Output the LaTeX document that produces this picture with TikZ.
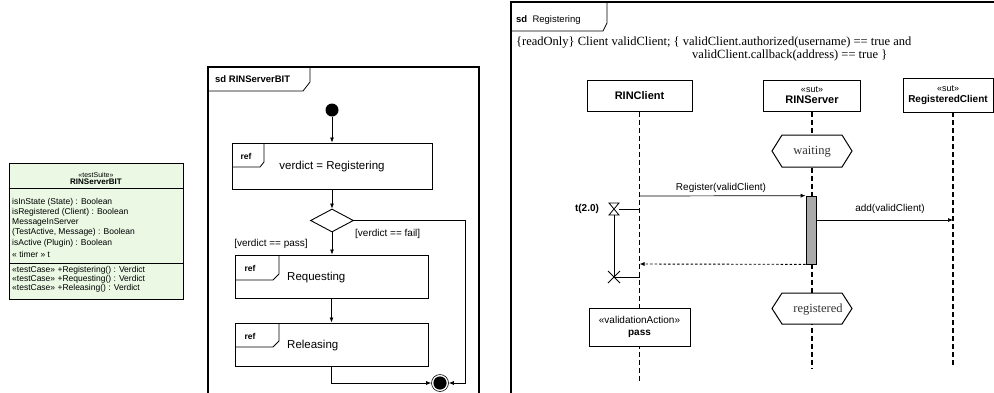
\documentclass[tikz,border=0pt]{standalone}
\usepackage{fontspec}
\setmainfont{Liberation Sans}
\newfontfamily\serifhex{Liberation Serif}
\usetikzlibrary{arrows.meta,shapes.geometric}
\newcommand\myfs[2]{\fontsize{#1}{#2}\selectfont}
\definecolor{classgreen}{RGB}{234,248,228}
\definecolor{actgray}{RGB}{170,170,170}
\begin{document}
\begin{tikzpicture}[x=1pt,y=-1pt,
  frameline/.style={line width=1.3pt},
  tabline/.style={line width=0.8pt},
  refbox/.style={draw, line width=1pt, fill=white, inner sep=0pt},
  flow/.style={-{Latex[length=5pt,width=4pt]}, line width=0.7pt},
  lifeline/.style={line width=1.1pt, dash pattern=on 5pt off 3pt},
  headbox/.style={draw, line width=1pt, fill=white, align=center, inner sep=1pt},
  lbl/.style={inner sep=0pt, font=\myfs{10}{12}},
  cls/.style={inner sep=0pt, anchor=west, font=\myfs{8.5}{10}},
  hexline/.style={line width=1pt, fill=white},
  hextext/.style={inner sep=0pt, font=\serifhex\myfs{12.5}{14}, text=black!80},
]
\useasboundingbox (0,0) rectangle (994,392);
\clip (0,0) rectangle (994,392);

% ---------------- class box ----------------
\node[draw, line width=0.8pt, fill=classgreen, minimum width=174pt, minimum height=136pt, inner sep=0pt] (class) at (96,231) {};
\coordinate (sepA) at (9,188);
\coordinate (sepB) at (9,263);
\draw[line width=0.7pt] (sepA) -- (sepA -| class.east);
\draw[line width=0.7pt] (sepB) -- (sepB -| class.east);
\node[inner sep=0pt, font=\myfs{7}{8}] (cstereo) at (96,175) {«testSuite»};
\node[inner sep=0pt, font=\bfseries\myfs{8}{9}] (cname) at (96,182) {RINServerBIT};
\node[cls] (a1) at (12,202) {isInState (State) : Boolean};
\node[cls] (a2) at (12,212) {isRegistered (Client) : Boolean};
\node[cls] (a3) at (12,222) {MessageInServer};
\node[cls] (a4) at (12,232) {(TestActive, Message) : Boolean};
\node[cls] (a5) at (12,243) {isActive (Plugin) : Boolean};
\node[cls] (a6) at (12,254) {« timer » t};
\node[cls] (o1) at (12,270) {«testCase» +Registering() : Verdict};
\node[cls] (o2) at (12,279) {«testCase» +Requesting() : Verdict};
\node[cls] (o3) at (12,288) {«testCase» +Releasing() : Verdict};

% ---------------- sd RINServerBIT ----------------
\draw[frameline] (208,67) rectangle (479,420);
\draw[tabline] (208,91) -- (303,91) -- (310,82) -- (310,67);
\node[inner sep=0pt, anchor=west, font=\bfseries\myfs{9.5}{11}] (sd1) at (215,79) {sd RINServerBIT};

\node[circle, fill, minimum size=13pt, inner sep=0pt] (init) at (332,110) {};

\node[refbox, minimum width=200pt, minimum height=46pt] (reg) at (332,166) {};
\draw[tabline] (232,167) -- (260,167) -- (264,162) -- (264,143);
\node[inner sep=0pt, font=\bfseries\myfs{8.5}{10}] (ref1) at (246,156) {ref};
\node[inner sep=0pt, font=\myfs{11.5}{14}] (regtxt) at (332,167) {verdict = Registering};

\node[diamond, draw, line width=0.9pt, fill=white, minimum width=43pt, minimum height=23pt, inner sep=0pt] (dec) at (332,220.5) {};

\node[refbox, minimum width=193pt, minimum height=43pt] (req) at (331.5,276.5) {};
\draw[tabline] (235,280) -- (273,280) -- (279,274) -- (279,255);
\node[inner sep=0pt, font=\bfseries\myfs{8.5}{10}] (ref2) at (250,268) {ref};
\node[inner sep=0pt, anchor=west, font=\myfs{11.5}{14}] (reqtxt) at (287,278) {Requesting};

\node[refbox, minimum width=193pt, minimum height=43pt] (rel) at (331.5,344.5) {};
\draw[tabline] (235,347) -- (273,347) -- (279,341) -- (279,323);
\node[inner sep=0pt, font=\bfseries\myfs{8.5}{10}] (ref3) at (250,336) {ref};
\node[inner sep=0pt, anchor=west, font=\myfs{11.5}{14}] (reltxt) at (287,346) {Releasing};

\node[circle, draw, line width=0.6pt, fill=white, minimum size=17pt, inner sep=0pt] (fin) at (440,383) {};
\fill (fin.center) circle (6.6pt);

\draw[flow] (init) -- (reg.north);
\draw[flow] (reg.south) -- (dec.north);
\draw[flow] (dec.south) -- (dec.south |- req.north);
\draw[flow] (req.south) -- (req.south |- rel.north);
\draw[flow] (rel.south) -- (rel.south |- fin.west) -- (fin.west);
\coordinate (failc) at (465,383);
\draw[flow] (dec.east) -| (failc) -- (fin.east);

\node[lbl, anchor=west] (gfail) at (355,234) {[verdict == fail]};
\node[lbl] (gpass) at (271,244) {[verdict == pass]};

% ---------------- sd Registering ----------------
\draw[frameline] (511,2) rectangle (1010,420);
\draw[tabline] (511,31) -- (603,31) -- (607,23) -- (607,2);
\node[inner sep=0pt, anchor=west, font=\myfs{9.5}{11}] (sd2) at (516,20) {\textbf{sd}\ \ Registering};

\node[inner sep=0pt, anchor=west, font=\serifhex\myfs{12.5}{14}] (con1) at (516,43) {\{readOnly\} Client validClient; \{ validClient.authorized(username) == true and};
\node[inner sep=0pt, anchor=west, font=\serifhex\myfs{12.5}{14}] (con2) at (692,55) {validClient.callback(address) == true \}};

\node[headbox, minimum width=105pt, minimum height=31pt, font=\bfseries\myfs{11}{13}] (rc) at (639.5,95.5) {RINClient};
\node[headbox, minimum width=97pt, minimum height=31pt] (rs) at (812,95.5) {{\myfs{9}{11}«sut»}\\[-1pt]{\bfseries\myfs{11}{12}RINServer}};
\node[headbox, minimum width=90pt, minimum height=34pt] (rcl) at (948,95) {{\myfs{9}{11}«sut»}\\[-1pt]{\bfseries\myfs{10}{12}RegisteredClient}};

\coordinate (rcEnd) at (639.5,382);
\coordinate (rsEnd) at (812,369);
\coordinate (rclTop) at (953,112);
\coordinate (rclEnd) at (953,367);
\draw[lifeline] (rc.south) -- (rcEnd);
\draw[lifeline] (rs.south) -- (rsEnd);
\draw[lifeline] (rclTop) -- (rclEnd);

\draw[hexline] (772,151) -- (782,135) -- (842,135) -- (852,151) -- (842,167) -- (782,167) -- cycle
  (812,152) node[hextext] (wait) {waiting};
\draw[hexline] (772,308.5) -- (782,293) -- (842,293) -- (852,308.5) -- (842,324) -- (782,324) -- cycle
  (818,310) node[hextext] (regd) {registered};

\node[draw, line width=0.7pt, fill=actgray, minimum width=10pt, minimum height=68pt, inner sep=0pt] (act) at (811,230) {};

\coordinate (m1s) at (639.5,196);
\draw[flow] (m1s) -- (act.north west);
\node[lbl] (m1l) at (721,188) {Register(validClient)};
\coordinate (m2e) at (953,220);
\draw[flow] (act.east |- m2e) -- (m2e);
\node[lbl] (m2l) at (890,209) {add(validClient)};
\coordinate (m3e) at (639.5,264);
\draw[flow, line width=0.9pt, dash pattern=on 2.5pt off 2pt] (act.south west) -- (m3e);

% timer
\node[inner sep=0pt, font=\bfseries\myfs{10}{12}] (tlbl) at (587,209) {t(2.0)};
\coordinate (hg) at (614,209);
\coordinate (tx) at (614,277);
\coordinate (rcT1) at (639.5,209);
\coordinate (rcT2) at (639.5,277);
\draw[line width=0.8pt] ([shift={(-5,-6)}]hg) -- ([shift={(5,-6)}]hg) -- ([shift={(-5,6)}]hg) -- ([shift={(5,6)}]hg) -- cycle;
\draw[line width=0.8pt] ([shift={(5,0)}]hg) -- (rcT1);
\draw[line width=0.8pt] ([shift={(0,6)}]hg) -- (tx);
\draw[line width=0.8pt] (tx) -- (rcT2);
\draw[line width=0.8pt] ([shift={(-6,-6)}]tx) -- ([shift={(6,6)}]tx);
\draw[line width=0.8pt] ([shift={(-6,6)}]tx) -- ([shift={(6,-6)}]tx);

\node[headbox, minimum width=101pt, minimum height=38pt] (va) at (639.5,327) {{\myfs{10}{12}«validationAction»}\\{\bfseries\myfs{10}{12}pass}};
\end{tikzpicture}
\end{document}
